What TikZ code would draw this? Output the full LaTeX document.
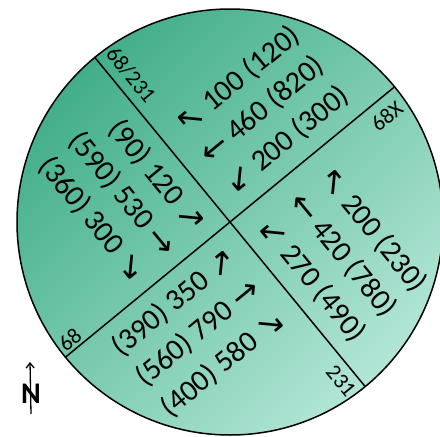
\documentclass[tikz,border=0pt]{standalone}
\usepackage{fontspec}
\setmainfont{Carlito}
\newfontfamily\arrfont{DejaVu Sans}
\usetikzlibrary{calc,arrows.meta}
\definecolor{gdark}{HTML}{42AE89}
\definecolor{glight}{HTML}{B2E6D6}
\newcommand{\flowarrow}[1]{{\arrfont\fontsize{33}{33}\selectfont\raisebox{-0.05em}{#1}}}
\tikzset{
  flow/.style={font=\fontsize{30}{30}\selectfont, inner sep=0pt},
  alongline/.style={rotate=39.4},
  acrossline/.style={rotate=-50.6},
  lbl/.style={font=\fontsize{22}{22}\selectfont, inner sep=0pt},
  divider/.style={line width=1.5pt, draw=black},
}
\begin{document}
\begin{tikzpicture}[x=1pt,y=-1pt]
\clip (0,0) rectangle (440,437);
\coordinate (O) at (230,222);
\shade[top color=gdark,bottom color=glight,shading angle=45] (O) circle (213);
\coordinate (A1) at ($(O)+(50.6:213)$);
\coordinate (A2) at ($(O)+(230.6:213)$);
\coordinate (B1) at ($(O)+(-39.4:213)$);
\coordinate (B2) at ($(O)+(140.6:213)$);
\draw[divider] (A2) -- (A1);
\draw[divider] (B2) -- (B1);
\draw[divider] (O) circle (213);

% top quadrant
\node[flow,alongline] (t1) at (238,80) {\flowarrow{↖} 100 (120)};
\node[flow,alongline] (t2) at (262,110) {\flowarrow{←} 460 (820)};
\node[flow,alongline] (t3) at (287,140) {\flowarrow{↙} 200 (300)};
% right quadrant
\node[flow,acrossline] (r1) at (373,230) {\flowarrow{↖} 200 (230)};
\node[flow,acrossline] (r2) at (343,255) {\flowarrow{←} 420 (780)};
\node[flow,acrossline] (r3) at (312,280) {\flowarrow{↙} 270 (490)};
% left quadrant
\node[flow,acrossline] (l1) at (157,176) {(90) 120 \flowarrow{↗}};
\node[flow,acrossline] (l2) at (122,194) {(590) 530 \flowarrow{→}};
\node[flow,acrossline] (l3) at (92,219) {(360) 300 \flowarrow{↘}};
% bottom quadrant
\node[flow,alongline] (b1) at (174,303) {(390) 350 \flowarrow{↗}};
\node[flow,alongline] (b2) at (198,333) {(560) 790 \flowarrow{→}};
\node[flow,alongline] (b3) at (223,364) {(400) 580 \flowarrow{↘}};

% edge labels
\node[lbl,acrossline] (la) at (131,75) {68/231};
\node[lbl,alongline] (lb) at (387,116) {68X};
\node[lbl,acrossline] (lc) at (341,381) {231};
\node[lbl,alongline] (ld) at (70,340) {68};

% north arrow
\node[font=\fontsize{30}{30}\selectfont\bfseries, inner sep=0pt] (N) at (31,394) {N};
\coordinate (nb) at (31,414);
\coordinate (nt) at (30,362);
\draw[-{Straight Barb[length=5pt,width=8pt]}, line width=1.3pt] (nb) -- (nt);
\end{tikzpicture}
\end{document}
